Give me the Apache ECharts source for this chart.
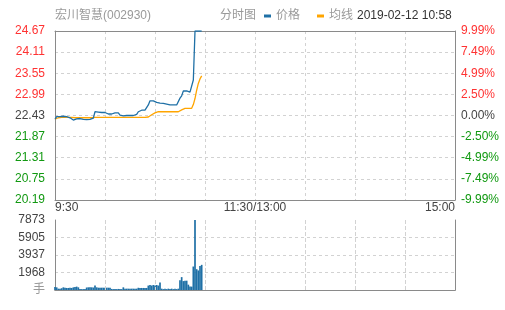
<!DOCTYPE html>
<html><head><meta charset="utf-8">
<script src="https://cdn.jsdelivr.net/npm/echarts@6/dist/echarts.min.js"></script>
<style>html,body{margin:0;padding:0;background:#fff}#c{width:505px;height:310px}</style>
</head><body><div id="c"></div>
<script>
const stockName = '宏川智慧(002930)';
const chartTitle = '分时图';
const timeStamp = '2019-02-12 10:58';
const preClose = 22.43;
const priceMin = 20.19;
const priceMax = 24.67;
const seriesNames = ['价格', '均线'];
const volumeUnit = '手';
const timeLabels = { 0: '9:30', 120: '11:30/13:00', 240: '15:00' };

const prices = [
  22.33,
  22.40, 22.41, 22.40, 22.40, 22.41, 22.40, 22.40, 22.39,
  22.37, 22.37,
  22.31, 22.31,
  22.34, 22.34, 22.35, 22.34,
  22.33, 22.33, 22.32, 22.33, 22.33,
  22.36, 22.36,
  22.53,
  22.51, 22.52, 22.51, 22.51, 22.50, 22.51, 22.51,
  22.47, 22.47, 22.47,
  22.50, 22.50, 22.49, 22.50,
  22.44,
  22.43, 22.42, 22.43, 22.43, 22.42, 22.43, 22.43, 22.43,
  22.46, 22.46,
  22.53, 22.53,
  22.57, 22.56, 22.57, 22.57,
  22.71,
  22.82, 22.80, 22.82,
  22.78, 22.78,
  22.75, 22.76, 22.75, 22.75,
  22.73, 22.73,
  22.71, 22.71, 22.70, 22.71, 22.71, 22.71, 22.71,
  22.89, 22.95,
  23.08, 23.06, 23.08,
  23.05, 23.05,
  23.02,
  23.37,
  24.67, 24.67, 24.67, 24.67, 24.67
];

const avgPrices = [
  22.33, 22.36, 22.37, 22.38, 22.38, 22.38, 22.38, 22.38, 22.38, 22.38,
  22.38, 22.37, 22.37, 22.37, 22.37, 22.37, 22.37, 22.37, 22.37, 22.37,
  22.37, 22.37, 22.37, 22.37, 22.38, 22.38, 22.38, 22.38, 22.38, 22.38,
  22.38, 22.38, 22.38, 22.38, 22.38, 22.38, 22.38, 22.38, 22.38, 22.38,
  22.38, 22.38, 22.38, 22.38, 22.38, 22.38, 22.38, 22.38, 22.38, 22.38,
  22.38, 22.38, 22.38, 22.38, 22.38, 22.38, 22.39, 22.40, 22.45, 22.49,
  22.50, 22.52, 22.53, 22.53, 22.53, 22.53, 22.53, 22.53, 22.53, 22.53,
  22.53, 22.53, 22.53, 22.53, 22.53, 22.56, 22.58, 22.62, 22.62, 22.62,
  22.62, 22.62, 22.62, 22.72, 22.88, 23.10, 23.28, 23.40, 23.48
];

const volumes = [
  350, 300, 150, 150, 200, 300, 250, 230, 230, 250,
  230, 300, 350, 380, 300, 120, 100, 100, 100, 280,
  300, 300, 300, 280, 500, 300, 260, 260, 260, 260,
  260, 260, 260, 260, 120, 100, 100, 100, 120, 100,
  100, 300, 150, 150, 150, 150, 150, 150, 150, 150,
  250, 230, 230, 230, 230, 230, 500, 560, 500, 560,
  500, 560, 500, 830, 150, 100, 150, 100, 150, 100,
  150, 100, 150, 100, 150, 1100, 1450, 1000, 1050, 1050,
  600, 400, 380, 2640, 7873, 2340, 2200, 2700, 2830
];

// minute categories 9:30-11:30, 13:01-15:00
const times = [];
function pad(n){return n<10?'0'+n:''+n;}
for (let m = 9*60+30; m <= 11*60+30; m++) times.push(Math.floor(m/60)+':'+pad(m%60));
for (let m = 13*60+1; m <= 15*60; m++) times.push(Math.floor(m/60)+':'+pad(m%60));
// half-hour marks for the vertical grid
const halfHours = times.filter(function(t, i){ return i > 0 && i < times.length - 1 && i % 30 === 0; });

const volMax = Math.max.apply(null, volumes);
const RED = '#ff3232', GREEN = '#119911', NEUTRAL = '#444';
const BLUE = '#1f70a6', ORANGE = '#ffa500';
const BORDER = '#8a8a8a', GRIDC = '#d2d2d2';
const FONT = '"Liberation Sans", Arial, "Noto Sans CJK SC", sans-serif';

function priceColor(v){
  v = Number(v);
  if (v > preClose + 1e-6) return RED;
  if (v < preClose - 1e-6) return GREEN;
  return NEUTRAL;
}
function makeYSplit(){ return { show: true, showMinLine: false, showMaxLine: false, lineStyle: { color: GRIDC, type: [3, 3], width: 1 } }; }
function makeXSplit(){ return { show: true, interval: 29, showMinLine: false, showMaxLine: false, lineStyle: { color: GRIDC, type: [3, 3], width: 1 } }; }

const chart = echarts.init(document.getElementById('c'), null, { renderer: 'canvas' });
chart.setOption({
  animation: false,
  textStyle: { fontFamily: FONT },
  title: [
    { text: stockName, left: 55, top: 10, padding: 0, textStyle: { color: '#999', fontSize: 12, fontWeight: 'normal', fontFamily: FONT } },
    { text: chartTitle, left: 220, top: 10, padding: 0, textStyle: { color: '#999', fontSize: 12, fontWeight: 'normal', fontFamily: FONT } },
    { text: timeStamp, left: 357, top: 10, padding: 0, textStyle: { color: '#333', fontSize: 12, fontWeight: 'normal', fontFamily: FONT } }
  ],
  legend: {
    data: seriesNames, left: 264, top: 10, padding: 0, icon: 'rect', itemWidth: 7, itemHeight: 3, itemGap: 17,
    textStyle: { color: '#999', fontSize: 12, fontFamily: FONT }
  },
  grid: [
    { left: 55, top: 31, width: 400, height: 169 },
    { left: 55, top: 220, width: 400, height: 70 }
  ],
  xAxis: [
    { type: 'category', gridIndex: 0, data: times.slice(), boundaryGap: false, position: 'bottom',
      axisLine: { show: true, lineStyle: { color: BORDER } }, axisTick: { show: false },
      axisLabel: { show: true, interval: function(i){ return timeLabels[i] !== undefined; },
        formatter: function(v, i){ return timeLabels[i] || ''; }, color: '#444', fontSize: 12, margin: 2,
        alignMinLabel: 'left', alignMaxLabel: 'right' },
      splitLine: makeXSplit() },
    { type: 'category', gridIndex: 0, data: times.slice(), boundaryGap: false, position: 'top',
      axisLine: { show: true, lineStyle: { color: BORDER } }, axisTick: { show: false }, axisLabel: { show: false }, splitLine: { show: false } },
    { type: 'category', gridIndex: 1, data: times.slice(), boundaryGap: false, position: 'bottom',
      axisLine: { show: true, lineStyle: { color: BORDER } }, axisTick: { show: false },
      axisLabel: { show: false },
      splitLine: makeXSplit() },
    { type: 'category', gridIndex: 1, data: times.slice(), boundaryGap: false, position: 'top',
      axisLine: { show: true, lineStyle: { color: BORDER } }, axisTick: { show: false }, axisLabel: { show: false },
      splitLine: { show: false } }
  ],
  yAxis: [
    { type: 'value', gridIndex: 0, position: 'left', min: priceMin, max: priceMax, interval: (priceMax - preClose) / 4,
      axisLine: { show: true, lineStyle: { color: BORDER } }, axisTick: { show: false },
      axisLabel: { formatter: function(v){ return Number(v).toFixed(2); }, color: function(v){ return priceColor(v); }, fontSize: 12, margin: 10 },
      splitLine: makeYSplit() },
    { type: 'value', gridIndex: 0, position: 'right', min: priceMin, max: priceMax, interval: (priceMax - preClose) / 4,
      axisLine: { show: true, lineStyle: { color: BORDER } }, axisTick: { show: false },
      axisLabel: { formatter: function(v){ let p = (Number(v) - preClose) / preClose * 100; if (Math.abs(p) < 1e-6) p = 0; return p.toFixed(2) + '%'; },
        color: function(v){ return priceColor(v); }, fontSize: 12, margin: 6 },
      splitLine: { show: false } },
    { type: 'value', gridIndex: 1, position: 'left', min: 0, max: volMax, interval: volMax / 4,
      axisLine: { show: true, lineStyle: { color: BORDER } }, axisTick: { show: false },
      axisLabel: { formatter: function(v){ return Number(v) === 0 ? volumeUnit : String(Math.round(v)); }, color: function(v){ return Number(v) === 0 ? '#999' : '#444'; }, fontSize: 12, margin: 10 },
      splitLine: makeYSplit() },
    { type: 'value', gridIndex: 1, position: 'right', min: 0, max: volMax, interval: volMax / 4,
      axisLine: { show: true, lineStyle: { color: BORDER } }, axisTick: { show: false }, axisLabel: { show: false }, splitLine: { show: false } }
  ],
  series: [
    { name: seriesNames[0], type: 'line', xAxisIndex: 0, yAxisIndex: 0, data: prices, showSymbol: false, symbol: 'none',
      lineStyle: { color: BLUE, width: 1.3 }, itemStyle: { color: BLUE }, z: 3 },
    { name: seriesNames[1], type: 'line', xAxisIndex: 0, yAxisIndex: 0, data: avgPrices, showSymbol: false, symbol: 'none',
      lineStyle: { color: ORANGE, width: 1.3 }, itemStyle: { color: ORANGE }, z: 2 },
    { name: 'volume', type: 'bar', xAxisIndex: 2, yAxisIndex: 2, data: volumes, barWidth: 1.7,
      itemStyle: { color: BLUE },
      markLine: { silent: true, symbol: 'none', label: { show: false }, animation: false,
        lineStyle: { color: GRIDC, type: [3, 3], width: 1 }, emphasis: { disabled: true },
        data: halfHours.map(function(t){ return { xAxis: t }; }) } }
  ]
});
</script></body></html>
